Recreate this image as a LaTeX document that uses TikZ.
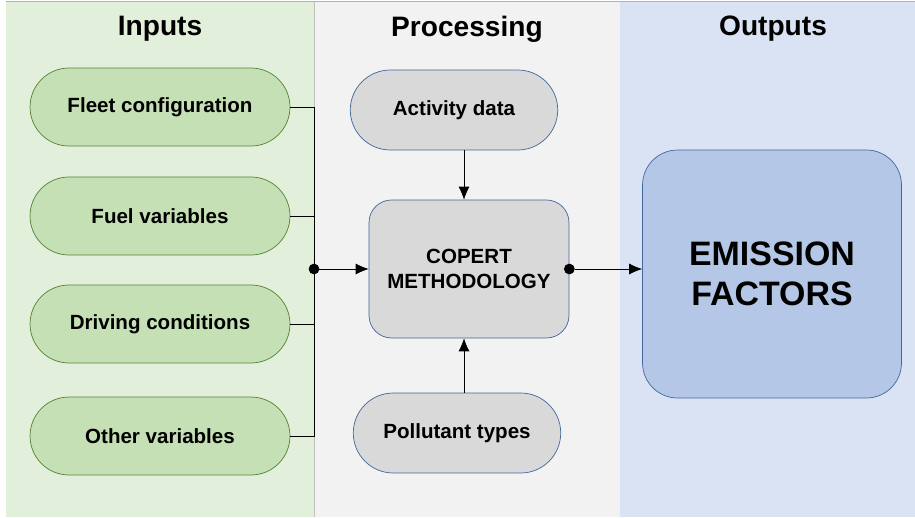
\documentclass[tikz,border=0pt]{standalone}
\usepackage{fontspec}
\setmainfont{Liberation Sans}
\usetikzlibrary{arrows.meta}

\definecolor{inpanel}{HTML}{E2EFDA}
\definecolor{propanel}{HTML}{F2F2F2}
\definecolor{outpanel}{HTML}{DAE3F3}
\definecolor{infill}{HTML}{C5E0B4}
\definecolor{indraw}{HTML}{548235}
\definecolor{grayfill}{HTML}{D9D9D9}
\definecolor{bluedraw}{HTML}{41679C}
\definecolor{outfill}{HTML}{B4C7E7}

\begin{document}
\begin{tikzpicture}
	[
	x=0.02cm, y=-0.02cm,
	> = {Latex[length=2.6mm,width=2.2mm]},
	dot/.style = {draw,fill,circle,inner sep=2pt},
	header/.style = {font=\fontsize{16}{18}\selectfont\bfseries},
	inpill/.style = {draw=indraw, fill=infill, rounded corners=0.78cm, minimum width=5.2cm, minimum height=1.56cm, font=\fontsize{11.7}{13}\selectfont\bfseries},
	procpill/.style = {draw=bluedraw, fill=grayfill, rounded corners=0.8cm, minimum width=4.15cm, minimum height=1.6cm, font=\fontsize{11.7}{13}\selectfont\bfseries},
	methodbox/.style = {draw=bluedraw, fill=grayfill, rounded corners=0.45cm, minimum width=4cm, minimum height=2.76cm, align=center, font=\fontsize{11.7}{14}\selectfont\bfseries},
	outbox/.style = {draw=bluedraw, fill=outfill, rounded corners=0.7cm, minimum width=5.18cm, minimum height=4.96cm, align=center, font=\fontsize{19.3}{23}\selectfont\bfseries}
	]
	\useasboundingbox (0,0) rectangle (915,517);
	% panels
	\fill[inpanel] (6,2) rectangle (314,517);
	\fill[propanel] (314,2) rectangle (620,517);
	\fill[outpanel] (620,2) rectangle (915,517);
	\draw[black!30, line width=0.6pt] (6,1.5) -- (915,1.5);
	\draw[black!25, line width=0.4pt] (314,2) -- (314,517);

	\node[header] (inputs) at (160,29) {Inputs};
	\node[header] (processing) at (467,29) {Processing};
	\node[header] (outputs) at (773,29) {Outputs};

	% inputs
	\node[inpill] (fleet) at (160,107) {Fleet configuration};
	\node[inpill] (fuel) at (160,216) {Fuel variables};
	\node[inpill] (driving) at (160,324) {Driving conditions};
	\node[inpill] (other) at (160,436) {Other variables};

	% processing
	\node[procpill] (activity) at (454,110) {Activity data};
	\node[methodbox] (copert) at (469,269) {COPERT\\METHODOLOGY};
	\node[procpill] (pollutant) at (457,433) {Pollutant types};

	% outputs
	\node[outbox] (emission) at (772,274) {EMISSION\\FACTORS};

	\coordinate (bus) at (314,269);
	\draw (fleet.east) -| (bus);
	\draw (other.east) -| (bus);
	\draw (fuel.east) -- (fuel.east -| bus);
	\draw (driving.east) -- (driving.east -| bus);
	\node[dot] (busdot) at (bus) {};
	\draw[->] (busdot) -- (copert.west);

	\draw[->] (activity.south -| 464,0) -- (copert.north -| 464,0);
	\draw[->] (pollutant.north -| 464,0) -- (copert.south -| 464,0);

	\node[dot] (outdot) at (copert.east) {};
	\draw[->] (outdot) -- (emission.west |- outdot);
\end{tikzpicture}
\end{document}
